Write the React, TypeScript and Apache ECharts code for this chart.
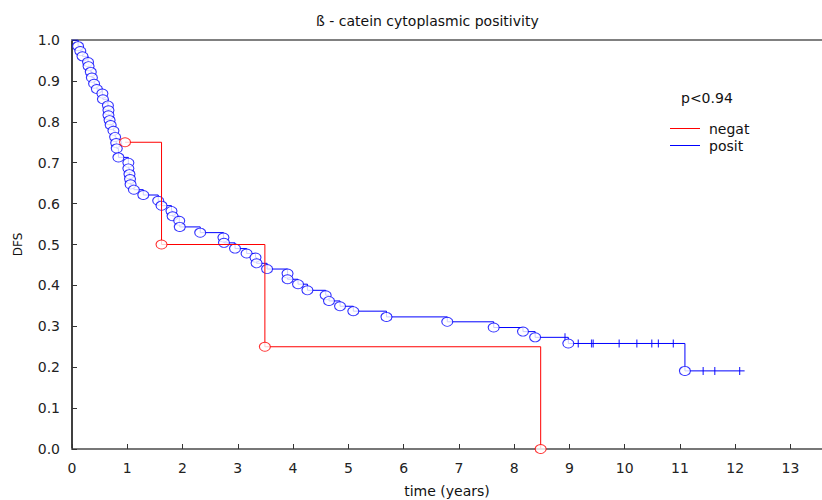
import React, { useEffect, useRef } from "react";
import * as echarts from "echarts";

const blueEventTimes = [0.11, 0.15, 0.19, 0.29, 0.30, 0.34, 0.36, 0.40, 0.45, 0.55, 0.56, 0.65, 0.66, 0.66, 0.68, 0.70, 0.75, 0.78, 0.80, 0.81, 0.84, 1.02, 1.02, 1.04, 1.05, 1.06, 1.12, 1.29, 1.56, 1.62, 1.80, 1.82, 1.94, 1.95, 2.32, 2.74, 2.75, 2.95, 3.16, 3.32, 3.34, 3.53, 3.90, 3.90, 4.09, 4.26, 4.59, 4.65, 4.85, 5.09, 5.69, 6.79, 7.63, 8.16, 8.38, 8.98, 11.09];
const blueEventSurv = [0.985, 0.973, 0.960, 0.946, 0.936, 0.922, 0.908, 0.893, 0.880, 0.869, 0.855, 0.840, 0.828, 0.816, 0.804, 0.792, 0.778, 0.763, 0.748, 0.735, 0.713, 0.700, 0.686, 0.672, 0.660, 0.647, 0.634, 0.621, 0.607, 0.595, 0.582, 0.569, 0.558, 0.543, 0.529, 0.517, 0.504, 0.490, 0.478, 0.468, 0.454, 0.440, 0.429, 0.415, 0.403, 0.388, 0.376, 0.362, 0.349, 0.337, 0.323, 0.311, 0.297, 0.287, 0.273, 0.258, 0.191];
const blueCensorTimes = [8.92, 9.16, 9.40, 9.43, 9.90, 10.22, 10.49, 10.61, 10.88, 11.42, 11.63, 12.08];
const blueCensorSurv = [0.273, 0.258, 0.258, 0.258, 0.258, 0.258, 0.258, 0.258, 0.258, 0.191, 0.191, 0.191];
const blueLastTime = 12.17;

const redEventTimes = [0.96, 1.62, 3.49, 8.48];
const redEventSurv = [0.75, 0.5, 0.25, 0.0];

const xTicks = [0, 1, 2, 3, 4, 5, 6, 7, 8, 9, 10, 11, 12, 13];
const titleText = "ß - catein cytoplasmic positivity";
const pText = "p<0.94";
const legendNames = ["negat", "posit"];

const FONT = "DejaVu Sans";
const BLUE = "#0000ff";
const RED = "#ff0000";

export default function App() {
  const ref = useRef<HTMLDivElement>(null);

  useEffect(() => {
    if (!ref.current) return;
    const chart = echarts.init(ref.current, null, { renderer: "svg", width: 822, height: 500 });

    const blueEvents = blueEventTimes.map((t, i) => [t, blueEventSurv[i]]);
    const blueLine = [[0, 1], ...blueEvents, [blueLastTime, blueEventSurv[blueEventSurv.length - 1]]];
    const blueCensor = blueCensorTimes.map((t, i) => [t, blueCensorSurv[i]]);
    const redEvents = redEventTimes.map((t, i) => [t, redEventSurv[i]]);

    const isTick = (v: number) => xTicks.some((t) => Math.abs(t - v) < 1e-6);

    chart.setOption({
      animation: false,
      grid: { left: 72, right: 0, top: 40, bottom: 51, containLabel: false, outerBoundsMode: "none" },
      xAxis: [
        {
          type: "value",
          min: 0,
          max: 13.57,
          interval: 1,
          name: "time (years)",
          nameLocation: "middle",
          nameGap: 35,
          nameTextStyle: { fontFamily: FONT, fontSize: 14, color: "#111" },
          axisLine: { show: true, lineStyle: { color: "#777", width: 2 } },
          axisTick: { show: true, inside: true, length: 5, lineStyle: { color: "#333" } },
          axisLabel: {
            fontFamily: FONT,
            fontSize: 14,
            color: "#222",
            margin: 12,
            formatter: (v: number) => (isTick(v) ? String(Math.round(v)) : ""),
          },
          splitLine: { show: false },
        },
        {
          type: "value",
          position: "top",
          min: 0,
          max: 13.57,
          axisLine: { show: true, lineStyle: { color: "#808080", width: 2 } },
          axisTick: { show: false },
          axisLabel: { show: false },
          splitLine: { show: false },
        },
      ],
      yAxis: {
        type: "value",
        min: 0,
        max: 1,
        interval: 0.1,
        name: "DFS",
        nameLocation: "middle",
        nameGap: 48,
        nameRotate: 90,
        nameTextStyle: { fontFamily: FONT, fontSize: 12, color: "#111" },
        axisLine: { show: true, lineStyle: { color: "#000", width: 1.5 } },
        axisTick: { show: true, inside: true, length: 5, lineStyle: { color: "#333" } },
        axisLabel: {
          fontFamily: FONT,
          fontSize: 14,
          color: "#222",
          margin: 12,
          formatter: (v: number) => v.toFixed(1),
        },
        splitLine: { show: false },
      },
      graphic: [
        {
          type: "text",
          left: 424 - 108,
          top: 14,
          style: { text: titleText, fontFamily: FONT, fontSize: 14, fill: "#111" },
        },
        {
          type: "text",
          x: 681,
          y: 98,
          style: { text: pText, fontFamily: FONT, fontSize: 14, fill: "#111", textVerticalAlign: "middle" },
        },
        {
          type: "line",
          shape: { x1: 670, y1: 128.5, x2: 700, y2: 128.5 },
          style: { stroke: RED, lineWidth: 1 },
        },
        {
          type: "text",
          x: 709,
          y: 129,
          style: { text: legendNames[0], fontFamily: FONT, fontSize: 14, fill: "#111", textVerticalAlign: "middle" },
        },
        {
          type: "line",
          shape: { x1: 670, y1: 145.5, x2: 700, y2: 145.5 },
          style: { stroke: BLUE, lineWidth: 1 },
        },
        {
          type: "text",
          x: 709,
          y: 146,
          style: { text: legendNames[1], fontFamily: FONT, fontSize: 14, fill: "#111", textVerticalAlign: "middle" },
        },
      ],
      series: [
        {
          type: "line",
          step: "end",
          data: blueLine,
          symbol: "none",
          lineStyle: { color: BLUE, width: 1 },
          z: 2,
        },
        {
          type: "scatter",
          data: blueCensor,
          symbol: "rect",
          symbolSize: [1.2, 8],
          itemStyle: { color: BLUE },
          z: 3,
        },
        {
          type: "scatter",
          data: blueEvents,
          symbol: "circle",
          symbolSize: [11, 9],
          itemStyle: { color: "#fff", borderColor: BLUE, borderWidth: 1 },
          z: 3,
        },
        {
          type: "line",
          step: "end",
          data: redEvents,
          symbol: "none",
          lineStyle: { color: RED, width: 1 },
          z: 4,
        },
        {
          type: "scatter",
          data: redEvents,
          symbol: "circle",
          symbolSize: [11, 9],
          itemStyle: { color: "#fff", borderColor: RED, borderWidth: 1 },
          z: 5,
        },
      ],
    });

    return () => chart.dispose();
  }, []);

  return (
    <div
      ref={ref}
      style={{ position: "fixed", left: 0, top: 0, width: 822, height: 500, background: "#fff" }}
    />
  );
}
